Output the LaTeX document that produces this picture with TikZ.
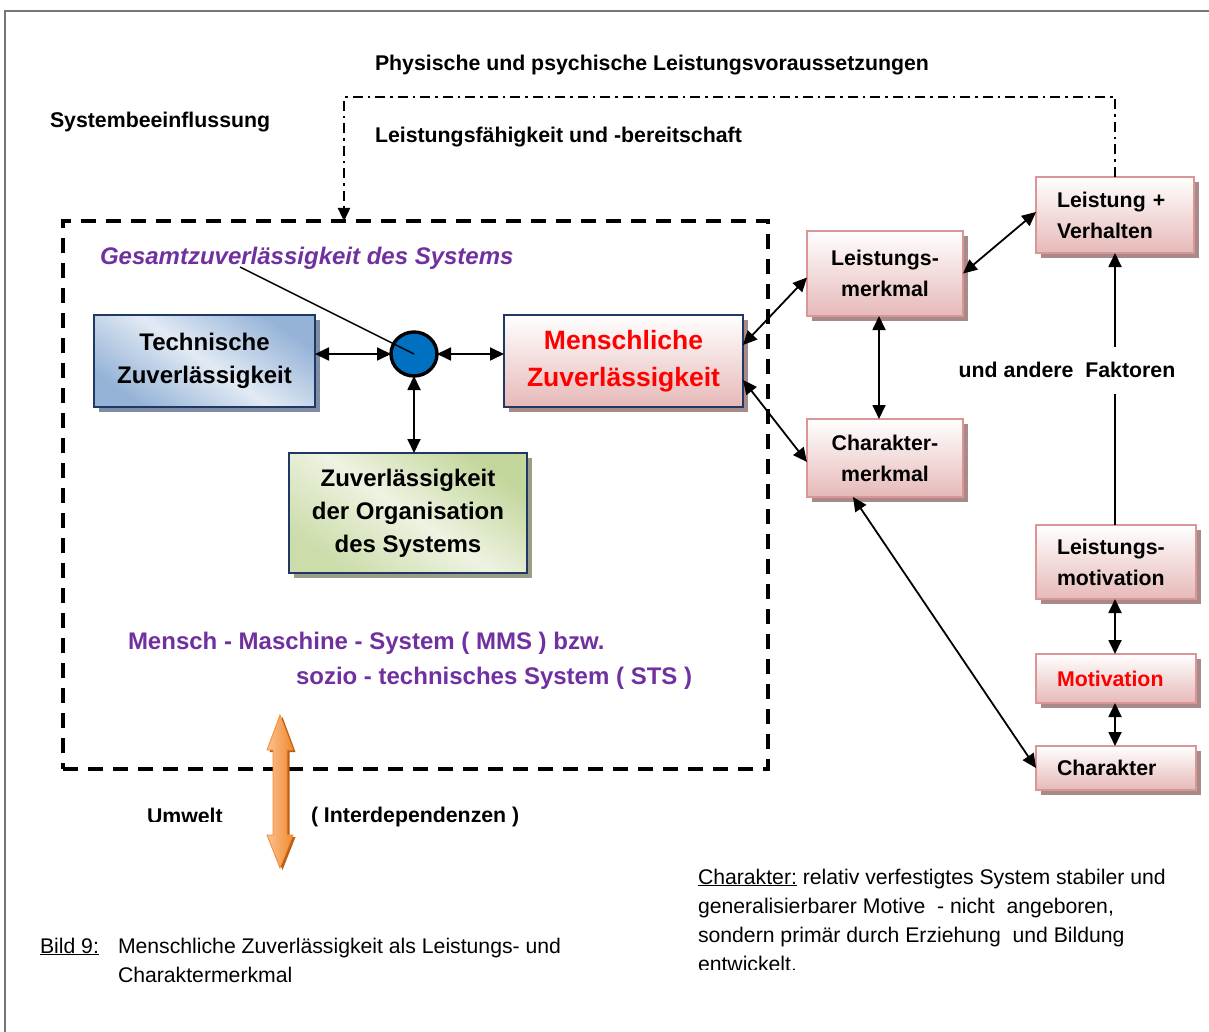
\documentclass[tikz,border=0pt]{standalone}
\usepackage{fontspec}
\setmainfont{Liberation Sans}
\usetikzlibrary{arrows.meta,shapes.geometric,shadows,calc}

\definecolor{navy}{HTML}{1F3864}
\definecolor{pinkline}{HTML}{D99694}
\definecolor{pinkbot}{HTML}{E6B9B8}
\definecolor{pinkshadow}{HTML}{A88A8A}
\definecolor{bluedark}{HTML}{95B3D7}
\definecolor{bluelight}{HTML}{E2EAF4}
\definecolor{blueshadow}{HTML}{7F8CA3}
\definecolor{greendark}{HTML}{C3D69B}
\definecolor{greenlight}{HTML}{EEF3E2}
\definecolor{greenshadow}{HTML}{9A9E86}
\definecolor{purp}{HTML}{7030A0}
\definecolor{hubblue}{HTML}{0070C0}
\definecolor{orlight}{HTML}{FAC090}
\definecolor{ordark}{HTML}{F38A30}
\definecolor{orshadow}{HTML}{B8601A}
\definecolor{framegray}{HTML}{777777}

\tikzset{
  every node/.style={inner sep=0pt, outer sep=0pt},
  lbl/.style={anchor=base west, font=\fontsize{21.3}{29}\selectfont\bfseries},
  plain/.style={anchor=base west, font=\fontsize{21.2}{29}\selectfont},
  purplbl/.style={anchor=base west, text=purp, font=\fontsize{24}{30}\selectfont\bfseries},
  boxshadow/.style={general shadow={shadow xshift=5pt, shadow yshift=-5pt, fill=#1}},
  bluebox/.style={draw=navy, line width=2.5pt, anchor=north west, align=center,
    shading=axis, top color=bluedark, bottom color=bluedark, middle color=bluelight,
    shading angle=-35, boxshadow=blueshadow,
    font=\fontsize{24}{33}\selectfont\bfseries},
  greenbox/.style={draw=navy, line width=2.5pt, anchor=north west, align=center,
    shading=axis, top color=greendark, bottom color=greendark!85!white, middle color=greenlight,
    shading angle=-35, boxshadow=greenshadow,
    font=\fontsize{24}{33}\selectfont\bfseries},
  redbox/.style={draw=navy, line width=2.5pt, anchor=north west, align=center,
    top color=white, bottom color=pinkbot, boxshadow=pinkshadow, text=red,
    font=\fontsize{26.5}{37}\selectfont\bfseries},
  pinkbox/.style={draw=pinkline, line width=2pt, anchor=north west, align=center,
    top color=white, bottom color=pinkbot, boxshadow=pinkshadow,
    font=\fontsize{21.3}{31}\selectfont\bfseries},
  pinkleft/.style={pinkbox, align=left, inner xsep=21pt, text width=#1},
  tipA/.tip={Triangle[length=14pt,width=13pt]},
  biarrow/.style={line width=1.8pt, tipA-tipA},
  onearrow/.style={line width=1.8pt, -tipA},
  dashdotline/.style={line width=2.4pt, dash pattern=on 10pt off 5pt on 2.5pt off 5pt,
    -{Triangle[length=13pt,width=12pt]}}
}

\begin{document}
\begin{tikzpicture}[x=1pt, y=-1pt]
\useasboundingbox (0,0) rectangle (1209,1032);

% outer frame
\draw[framegray, line width=1.4pt] (5,1032) -- (5,11) -- (1209,11);

% headings
\node[lbl] (phys) at (375,71) {Physische und psychische Leistungsvoraussetzungen};
\node[lbl] (sysb) at (50,127.5) {Systembeeinflussung};
\node[lbl] (lfb) at (375,143) {Leistungsfähigkeit und -bereitschaft};

% system boundary
\node[draw, line width=3.5pt, dash pattern=on 15pt off 10pt, anchor=north west,
      minimum width=705pt, minimum height=548pt] (sys) at (63,221) {};

\node[purplbl, font=\fontsize{24}{30}\selectfont\bfseries\itshape] (ges) at (100,264.5) {Gesamtzuverlässigkeit des Systems};

% boxes inside the system
\node[bluebox, minimum width=221pt, minimum height=92pt] (tech) at (94,315) {Technische\\Zuverlässigkeit};
\node[greenbox, minimum width=238pt, minimum height=120pt] (org) at (289,453) {Zuverlässigkeit\\der Organisation\\des Systems};
\node[redbox, minimum width=239pt, minimum height=92pt] (mensch) at (504,315) {Menschliche\\Zuverlässigkeit};
\node[ellipse, draw, line width=3.4pt, fill=hubblue, minimum width=46pt, minimum height=44pt] (hub) at (414,354) {};

\coordinate (gtail) at (240,267);
\draw[line width=1.4pt] (gtail) -- (hub.center);

\draw[biarrow] (hub.west) -- (hub.west -| tech.east);
\draw[biarrow] (hub.east) -- (hub.east -| mensch.west);
\draw[biarrow] (hub.south) -- (hub.south |- org.north);

\node[purplbl] (mms1) at (128,649.5) {Mensch - Maschine - System ( MMS ) bzw.};
\node[purplbl] (mms2) at (296,684.5) {sozio - technisches System ( STS )};

% right-hand chain
\node[pinkbox, minimum width=156pt, minimum height=85pt] (lm) at (807,231) {Leistungs-\\merkmal};
\node[pinkbox, minimum width=156pt, minimum height=78pt] (cm) at (807,419) {Charakter-\\merkmal};
\node[pinkleft=116pt, minimum height=76pt] (lv) at (1036,177) {Leistung +\\Verhalten};
\node[pinkleft=118pt, minimum height=74pt] (lmot) at (1036,525) {Leistungs-\\motivation};
\node[pinkleft=118pt, minimum height=49pt, text=red] (mot) at (1036,654) {Motivation};
\node[pinkleft=118pt, minimum height=44pt] (chr) at (1036,746) {Charakter};

\node[font=\fontsize{21.3}{29}\selectfont\bfseries, minimum height=47pt] (fakt) at (1067,370) {und andere\ \ Faktoren};

\draw[biarrow] ([yshift=16pt]mensch.east) -- ([yshift=-4pt]lm.west);
\draw[biarrow] ([yshift=-19pt]mensch.east) -- ([yshift=-4pt]cm.west);
\draw[biarrow] (lm.east) -- ([yshift=3pt]lv.west);
\draw[biarrow] ([xshift=-6pt]lm.south) -- ([xshift=-6pt]cm.north);
\draw[biarrow] ([xshift=-32pt]cm.south) -- (chr.west);
\draw[biarrow] (lmot.south -| lv.south) -- (mot.north -| lv.south);
\draw[biarrow] (mot.south -| lv.south) -- (chr.north -| lv.south);
\draw[line width=1.8pt] (lv.south |- lmot.north) -- (lv.south |- fakt.south);
\draw[onearrow] (lv.south |- fakt.north) -- (lv.south);

% feedback loop
\coordinate (bend) at (344,97);
\draw[dashdotline] (lv.north) |- (bend) -- (bend |- sys.north);

% environment arrow
\fill[orshadow] (282.5,717) -- (295.5,752) -- (289.5,752) -- (289.5,837) -- (295.5,837)
  -- (282.5,870) -- (269.5,837) -- (275.5,837) -- (275.5,752) -- (269.5,752) -- cycle;
\shade[left color=orlight, right color=ordark, draw=ordark, line width=0.8pt]
  (280,715) -- (293,750) -- (287,750) -- (287,835) -- (293,835)
  -- (280,868) -- (267,835) -- (273,835) -- (273,750) -- (267,750) -- cycle;

\begin{scope}
  \clip (140,790) rectangle (260,821.5);
  \node[lbl] (umwelt) at (147,823.5) {Umwelt};
\end{scope}
\node[lbl] (inter) at (311,822.5) {( Interdependenzen )};

% caption
\node[plain] (cap0) at (40,953) {\underline{Bild 9:}};
\node[plain] (cap1) at (118,953) {Menschliche Zuverlässigkeit als Leistungs- und};
\node[plain] (cap2) at (118,982.5) {Charaktermerkmal};

% definition
\node[plain] (def1) at (698,884) {\underline{Charakter:} relativ verfestigtes System stabiler und};
\node[plain] (def2) at (698,913) {generalisierbarer Motive\ \ - nicht\ \ angeboren,};
\node[plain] (def3) at (698,942) {sondern primär durch Erziehung\ \ und Bildung};
\begin{scope}
  \clip (690,950) rectangle (900,969.5);
  \node[plain] (def4) at (698,971) {entwickelt.};
\end{scope}
\end{tikzpicture}
\end{document}
